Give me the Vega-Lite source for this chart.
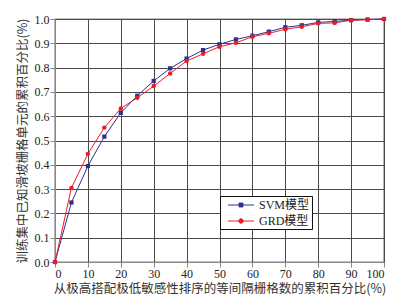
{
  "$schema": "https://vega.github.io/schema/vega-lite/v6.json",
  "autosize": "none",
  "width": 329,
  "height": 243,
  "padding": {"left": 55, "top": 19, "right": 32, "bottom": 37},
  "background": "white",
  "config": {
    "view": {"stroke": "#111", "strokeWidth": 1.2},
    "font": "Liberation Serif, Noto Sans CJK SC",
    "axis": {
      "labelFont": "Liberation Serif",
      "labelFontSize": 12,
      "labelColor": "#222",
      "titleFont": "Noto Sans CJK SC",
      "titleFontSize": 12.5,
      "titleFontWeight": "normal",
      "titleColor": "#333",
      "gridColor": "#4a4a4a",
      "gridWidth": 1
    }
  },
  "data": {
    "values": [
      {"x": 0, "y": 0, "model": "SVM模型"},
      {"x": 5, "y": 0.245, "model": "SVM模型"},
      {"x": 10, "y": 0.395, "model": "SVM模型"},
      {"x": 15, "y": 0.516, "model": "SVM模型"},
      {"x": 20, "y": 0.614, "model": "SVM模型"},
      {"x": 25, "y": 0.684, "model": "SVM模型"},
      {"x": 30, "y": 0.745, "model": "SVM模型"},
      {"x": 35, "y": 0.797, "model": "SVM模型"},
      {"x": 40, "y": 0.837, "model": "SVM模型"},
      {"x": 45, "y": 0.872, "model": "SVM模型"},
      {"x": 50, "y": 0.896, "model": "SVM模型"},
      {"x": 55, "y": 0.916, "model": "SVM模型"},
      {"x": 60, "y": 0.931, "model": "SVM模型"},
      {"x": 65, "y": 0.948, "model": "SVM模型"},
      {"x": 70, "y": 0.966, "model": "SVM模型"},
      {"x": 75, "y": 0.974, "model": "SVM模型"},
      {"x": 80, "y": 0.986, "model": "SVM模型"},
      {"x": 85, "y": 0.99, "model": "SVM模型"},
      {"x": 90, "y": 0.995, "model": "SVM模型"},
      {"x": 95, "y": 0.998, "model": "SVM模型"},
      {"x": 100, "y": 1.0, "model": "SVM模型"},
      {"x": 0, "y": 0, "model": "GRD模型"},
      {"x": 5, "y": 0.305, "model": "GRD模型"},
      {"x": 10, "y": 0.445, "model": "GRD模型"},
      {"x": 15, "y": 0.553, "model": "GRD模型"},
      {"x": 20, "y": 0.632, "model": "GRD模型"},
      {"x": 25, "y": 0.676, "model": "GRD模型"},
      {"x": 30, "y": 0.724, "model": "GRD模型"},
      {"x": 35, "y": 0.776, "model": "GRD模型"},
      {"x": 40, "y": 0.827, "model": "GRD模型"},
      {"x": 45, "y": 0.857, "model": "GRD模型"},
      {"x": 50, "y": 0.886, "model": "GRD模型"},
      {"x": 55, "y": 0.902, "model": "GRD模型"},
      {"x": 60, "y": 0.927, "model": "GRD模型"},
      {"x": 65, "y": 0.941, "model": "GRD模型"},
      {"x": 70, "y": 0.958, "model": "GRD模型"},
      {"x": 75, "y": 0.968, "model": "GRD模型"},
      {"x": 80, "y": 0.982, "model": "GRD模型"},
      {"x": 85, "y": 0.984, "model": "GRD模型"},
      {"x": 90, "y": 0.995, "model": "GRD模型"},
      {"x": 95, "y": 0.997, "model": "GRD模型"},
      {"x": 100, "y": 1.0, "model": "GRD模型"}
    ]
  },
  "encoding": {
    "x": {
      "field": "x", "type": "quantitative",
      "scale": {"domain": [0, 100], "nice": false},
      "axis": {"tickCount": 10, "labelPadding": 1, "titlePadding": 3,
               "title": "从极高搭配极低敏感性排序的等间隔栅格数的累积百分比(%)"}
    },
    "y": {
      "field": "y", "type": "quantitative",
      "scale": {"domain": [0, 1], "nice": false},
      "axis": {"tickCount": 10, "format": ".1f", "labelPadding": 1, "titlePadding": 5,
               "title": "训练集中已知滑坡栅格单元的累积百分比(%)"}
    },
    "color": {
      "field": "model", "type": "nominal",
      "scale": {"domain": ["SVM模型", "GRD模型"], "range": ["#2e3192", "#ed1c24"]},
      "legend": {
        "title": null,
        "orient": "none",
        "legendX": 165,
        "legendY": 177,
        "padding": 2,
        "strokeColor": "#111",
        "fillColor": "white",
        "labelFont": "Liberation Serif, Noto Sans CJK SC",
        "labelFontSize": 12,
        "labelColor": "#222",
        "symbolSize": 169,
        "symbolType": "M-1,0H1",
        "symbolOffset": 12,
        "rowPadding": 3,
        "labelOffset": 11,
        "encode": {
          "symbols": {
            "update": {
              "shape": {"signal": "datum.value === 'SVM模型' ? 'M-2,0H2M-0.3,-0.3H0.3V0.3H-0.3Z' : 'M-2,0H2M0.34,0A0.34,0.34,0,1,1,-0.34,0A0.34,0.34,0,1,1,0.34,0'"},
              "fill": {"signal": "datum.value === 'SVM模型' ? '#2e3192' : '#ed1c24'"},
              "stroke": {"signal": "datum.value === 'SVM模型' ? '#2e3192' : '#ed1c24'"},
              "strokeWidth": {"value": 1},
              "opacity": {"value": 1}
            }
          }
        }
      }
    }
  },
  "layer": [
    {
      "mark": {"type": "line", "strokeWidth": 1}
    },
    {
      "transform": [{"filter": "datum.model === 'SVM模型'"}],
      "mark": {"type": "point", "shape": "square", "filled": true, "opacity": 1, "size": 18}
    },
    {
      "transform": [{"filter": "datum.model === 'GRD模型'"}],
      "mark": {"type": "point", "shape": "circle", "filled": true, "opacity": 1, "size": 20}
    }
  ]
}
